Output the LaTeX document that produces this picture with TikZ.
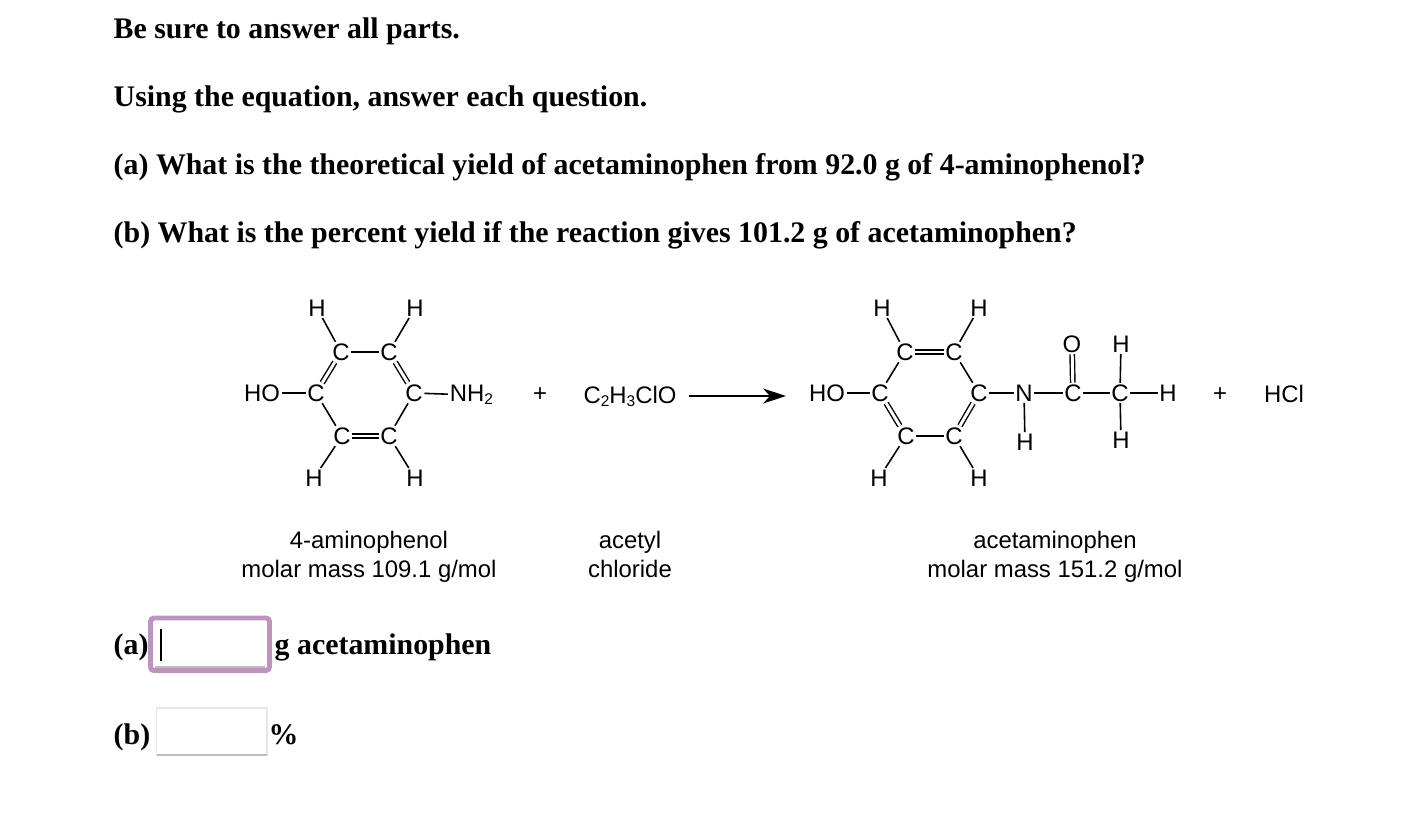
\documentclass[tikz,border=0pt]{standalone}
\usepackage{fontspec}
\usepackage{xcolor}
\setmainfont{Liberation Serif}
\newfontfamily\arial{Liberation Sans}
\usetikzlibrary{arrows.meta}
\definecolor{boxpurple}{HTML}{BC94BE}
\definecolor{boxline}{HTML}{E6E6E6}
\definecolor{boxbase}{HTML}{BDBDBD}
\newcommand{\atomsub}[1]{\raisebox{-0.9pt}{\fontsize{4.4}{5}\selectfont #1}}
\tikzset{
  question/.style={anchor=base west,inner sep=0pt,font=\fontsize{8.5}{10}\selectfont\bfseries},
  atom/.style={inner sep=0.3pt,font=\fontsize{6.8}{8}\selectfont\arial},
  caption/.style={anchor=base,inner sep=0pt,font=\fontsize{6.8}{8}\selectfont\arial},
  bond/.style={line width=0.45pt},
  dbond/.style={line width=0.4pt,double,double distance=0.85pt}
}
\begin{document}
\begin{tikzpicture}
        \useasboundingbox (0,0) rectangle (14.1,8.3);
        \fill[white] (0,0) rectangle (14.1,8.3);
        %question lines
        \node[question] (qsure) at (1.13,7.92) {Be sure to answer all parts.};
        \node[question] (qusing) at (1.13,7.24) {Using the equation, answer each question.};
        \node[question] (qa) at (1.13,6.56) {(a) What is the theoretical yield of acetaminophen from 92.0 g of 4-aminophenol?};
        \node[question] (qb) at (1.13,5.88) {(b) What is the percent yield if the reaction gives 101.2 g of acetaminophen?};
        %4-aminophenol
        \foreach \name/\x/\y/\txt in {
                lctl/3.41/4.78/C, lctr/3.89/4.78/C, lcl/3.16/4.37/C, lcr/4.14/4.37/C,
                lcbl/3.42/3.94/C, lcbr/3.89/3.94/C, lhtl/3.17/5.22/H, lhtr/4.15/5.22/H,
                lhbl/3.14/3.52/H, lhbr/4.15/3.52/H, lho/2.62/4.37/HO}
                \node[atom] (\name) at (\x,\y) {\txt};
        \node[atom,anchor=west] (lnh) at (4.48,4.35) {NH\atomsub{2}};
        \foreach \a/\b in {lctl/lctr,lcr/lcbr,lcbl/lcl,lctl/lhtl,lctr/lhtr,lcbl/lhbl,lcbr/lhbr,lcl/lho,lcr/lnh}
                \draw[bond] (\a) -- (\b);
        \foreach \a/\b in {lctl/lcl,lctr/lcr,lcbl/lcbr}
                \draw[dbond] (\a) -- (\b);
        %acetaminophen
        \foreach \name/\x/\y/\txt in {
                rctl/9.05/4.78/C, rctr/9.54/4.78/C, rcl/8.80/4.37/C, rcr/9.79/4.37/C,
                rcbl/9.06/3.94/C, rcbr/9.54/3.94/C, rhtl/8.82/5.22/H, rhtr/9.79/5.22/H,
                rhbl/8.79/3.52/H, rhbr/9.79/3.52/H, rho/8.27/4.37/HO, rn/10.24/4.37/N,
                rco/10.73/4.37/C, rcm/11.20/4.37/C, rhm/11.68/4.37/H, ro/10.72/4.86/O,
                rhup/11.21/4.86/H, rhn/10.25/3.88/H, rhdn/11.21/3.90/H}
                \node[atom] (\name) at (\x,\y) {\txt};
        \foreach \a/\b in {rctl/rcl,rctr/rcr,rcbl/rcbr,rctl/rhtl,rctr/rhtr,rcbl/rhbl,rcbr/rhbr,rcl/rho,
                rcr/rn,rn/rco,rco/rcm,rcm/rhm,rcm/rhup,rcm/rhdn,rn/rhn}
                \draw[bond] (\a) -- (\b);
        \foreach \a/\b in {rctl/rctr,rcl/rcbl,rcr/rcbr,rco/ro}
                \draw[dbond] (\a) -- (\b);
        %reagents and arrow
        \node[caption] (plusa) at (5.40,4.29) {+};
        \node[caption] (chloride) at (6.30,4.27) {C\atomsub{2}H\atomsub{3}ClO};
        \node[caption] (plusb) at (12.20,4.29) {+};
        \node[caption] (hcl) at (12.84,4.28) {HCl};
        \coordinate (arrowstart) at (6.89,4.34);
        \coordinate (arrowend) at (7.86,4.34);
        \draw[bond,-{Stealth[length=2.3mm,width=1.5mm,inset=0.7mm]}] (arrowstart) -- (arrowend);
        %names below the molecules
        \foreach \name/\x/\y/\txt in {
                ca/3.69/2.82/4-aminophenol, cb/3.69/2.53/molar mass 109.1 g\slash mol,
                cc/6.30/2.82/acetyl, cd/6.30/2.53/chloride,
                ce/10.55/2.82/acetaminophen, cf/10.55/2.53/molar mass 151.2 g\slash mol}
                \node[caption] (\name) at (\x,\y) {\txt};
        %answer boxes
        \draw[boxpurple,line width=1.4pt,rounded corners=1pt,fill=white] (1.505,1.595) rectangle (2.695,2.12);
        \draw[boxbase,line width=0.3pt] (1.55,1.63) -- (2.65,1.63);
        \draw[black,line width=0.4pt] (1.61,2.01) -- (1.61,1.69);
        \node[question] (la) at (1.13,1.76) {(a)};
        \node[question] (ga) at (2.74,1.76) {g acetaminophen};
        \draw[boxline,line width=0.3pt] (1.565,0.75) rectangle (2.67,1.22);
        \draw[boxbase,line width=0.4pt] (1.565,0.75) -- (2.67,0.75);
        \node[question] (lb) at (1.13,0.86) {(b)};
        \node[question] (pct) at (2.68,0.86) {\%};
\end{tikzpicture}
\end{document}
